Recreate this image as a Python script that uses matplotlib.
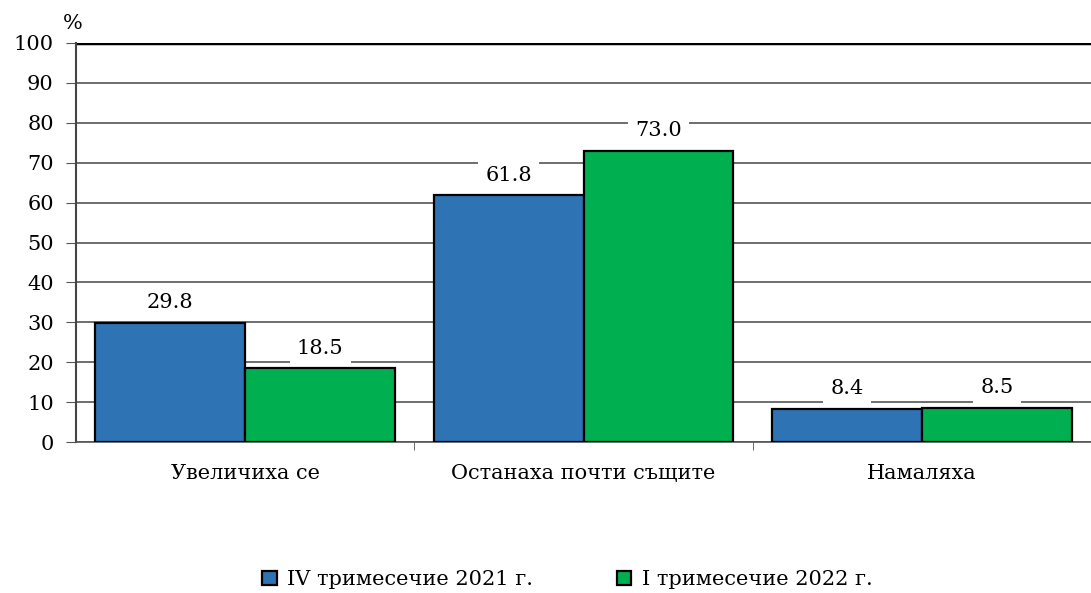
import numpy as np
import matplotlib.pyplot as plt
from matplotlib.ticker import MultipleLocator

categories = ['Увеличиха се', 'Останаха почти същите', 'Намаляха']
series_names = ['IV тримесечие 2021 г.', 'I тримесечие 2022 г.']
q4_2021 = [29.8, 61.8, 8.4]
q1_2022 = [18.5, 73.0, 8.5]
colors = ['#2E74B5', '#00B050']

plt.rcParams['font.family'] = ['DejaVu Serif']
plt.rcParams['font.size'] = 15

fig = plt.figure(figsize=(10.91, 5.93), dpi=100)
ax = fig.add_axes([0.0697, 0.2546, 0.9303, 0.6729])

x = np.arange(len(categories))
width = 0.443
bars = []
for i, (vals, name, c) in enumerate(zip([q4_2021, q1_2022], series_names, colors)):
    offset = (i - 0.5) * width
    b = ax.bar(x + offset, vals, width, color=c, edgecolor='black', linewidth=1.6,
               label=name, zorder=3)
    bars.append(b)
    for xi, v in zip(x + offset, vals):
        ax.annotate('%.1f' % v, (xi, v), xytext=(0, 14.5), textcoords='offset points',
                    ha='center', va='center', zorder=4,
                    bbox=dict(boxstyle='square,pad=0.35', fc='white', ec='none'))

ax.set_xlim(-0.5, 2.5)
ax.set_ylim(0, 100)
ax.yaxis.set_major_locator(MultipleLocator(10))
ax.grid(axis='y', color='#555555', linewidth=1.2, zorder=0)
ax.axhline(100, color='black', linewidth=2.5, zorder=2)

ax.set_xticks(x)
ax.set_xticklabels(categories)
ax.tick_params(axis='x', length=0, pad=16)
ax.set_xticks([0.5, 1.5, 2.5], minor=True)
ax.tick_params(axis='x', which='minor', length=6, color='#555555', direction='out')
ax.tick_params(axis='y', length=7, color='#555555', direction='out', pad=9)

for s in ['top', 'right']:
    ax.spines[s].set_visible(False)
ax.spines['left'].set_color('#444444')
ax.spines['left'].set_linewidth(1.5)
ax.spines['bottom'].set_color('#555555')
ax.spines['bottom'].set_linewidth(1.2)

fig.text(0.058, 0.96, '%', ha='left', va='center')

fig.legend(handles=bars, labels=series_names, loc='center', ncol=2,
           bbox_to_anchor=(0.52, 0.022), frameon=False,
           handlelength=0.7, handleheight=0.7, columnspacing=4.0, handletextpad=0.5)

fig.savefig('out.png', dpi=100)
